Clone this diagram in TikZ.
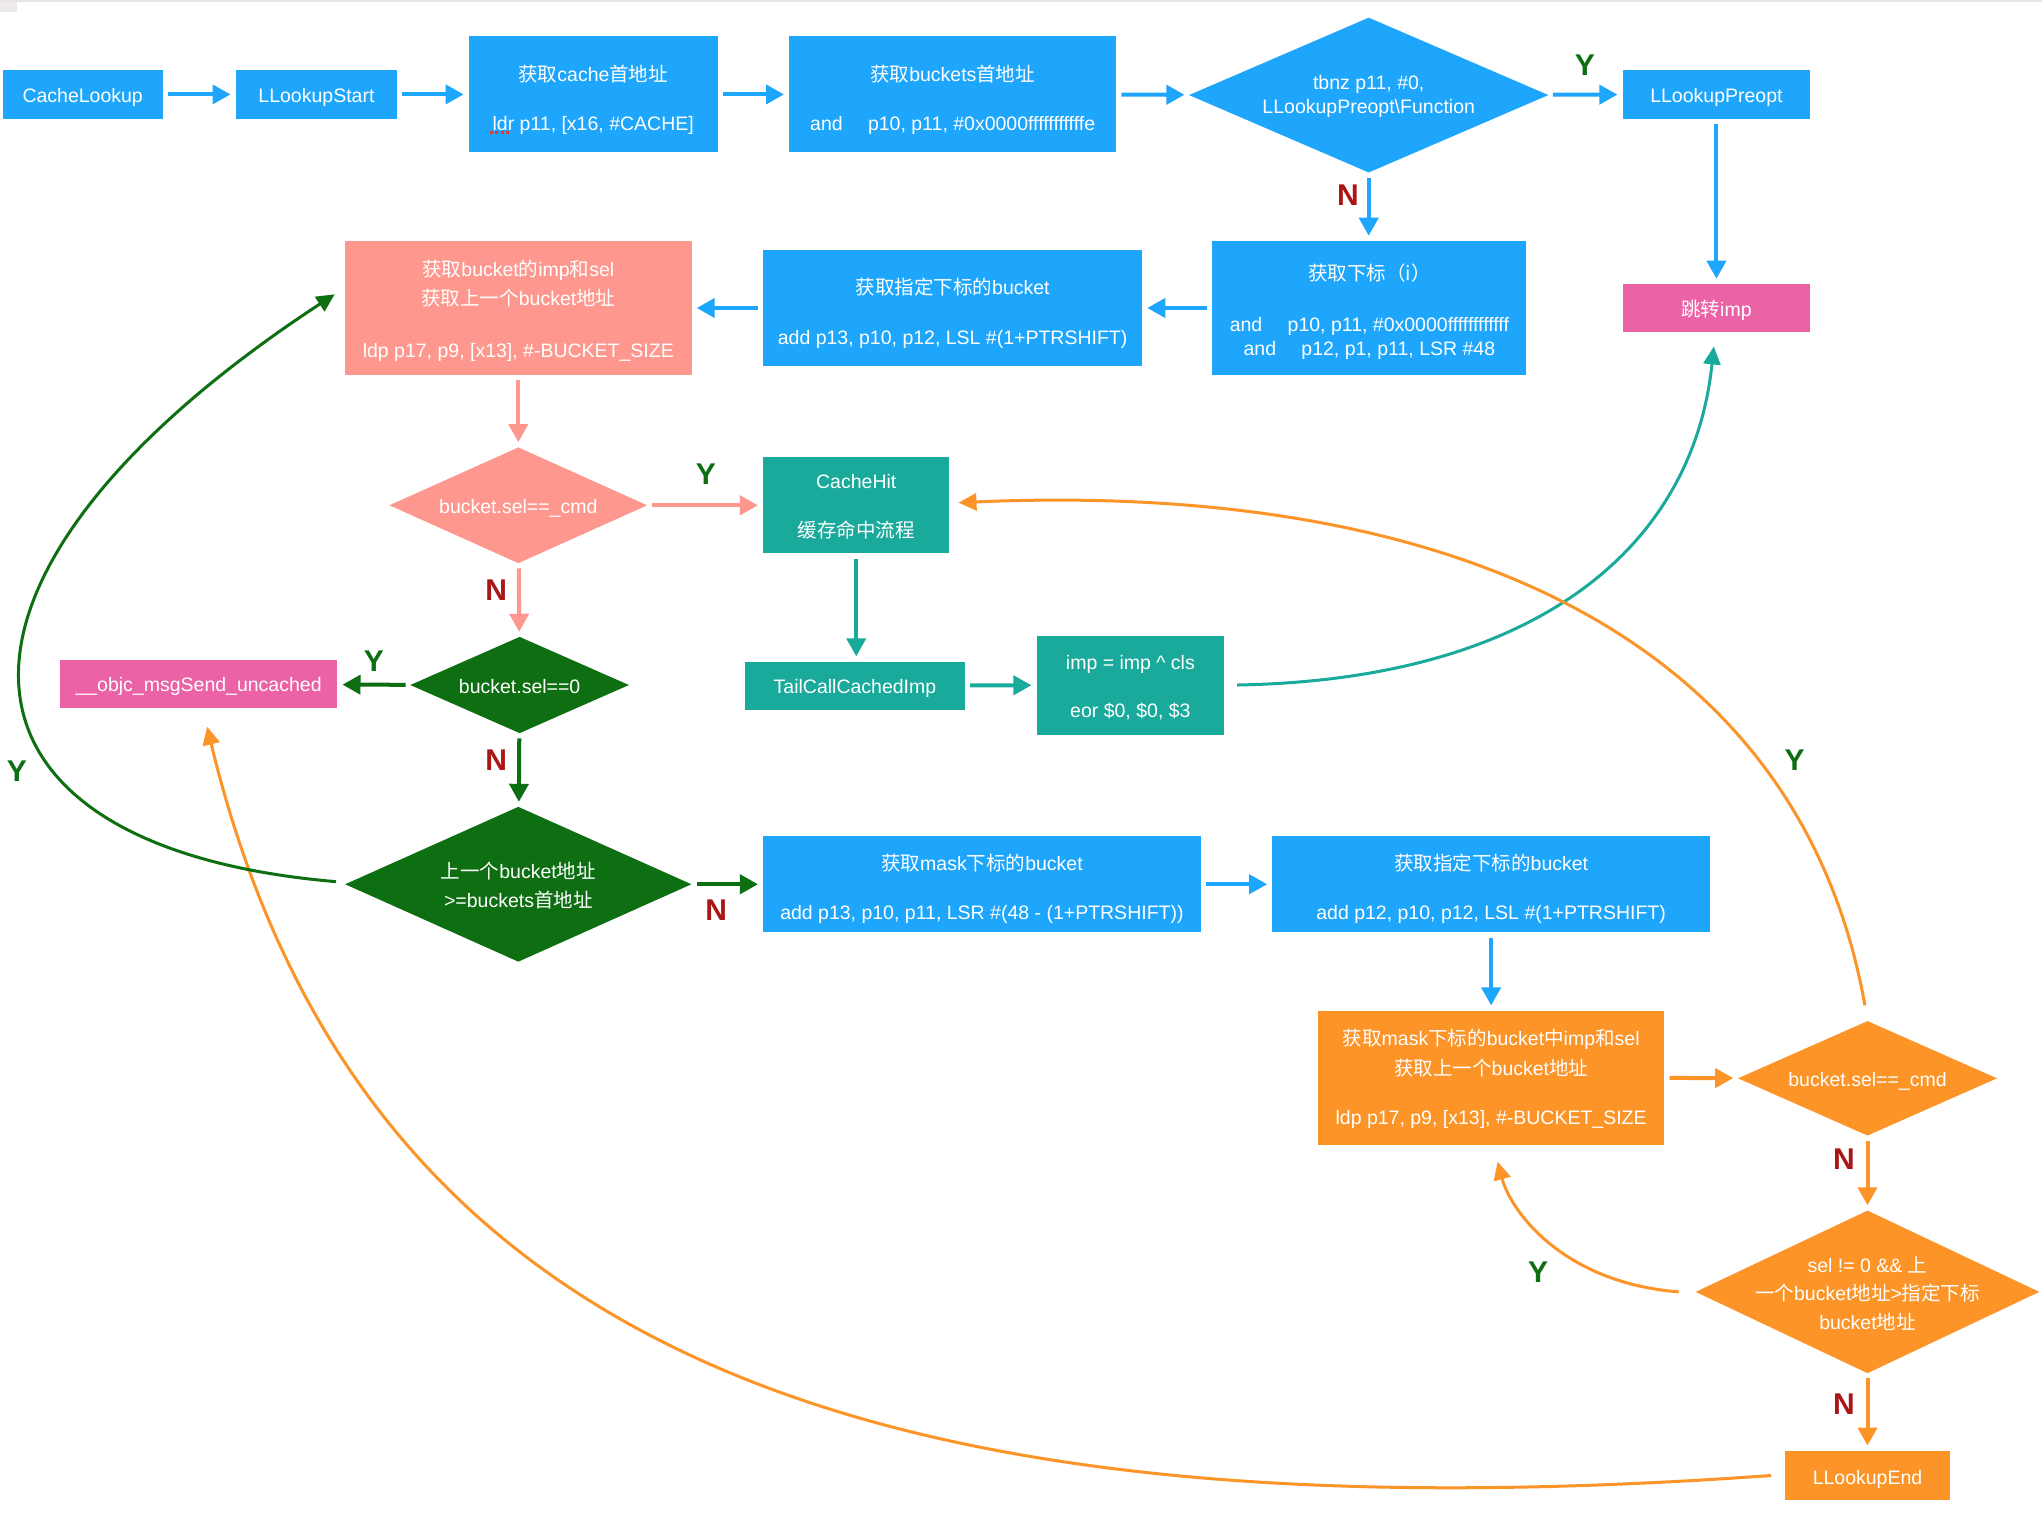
\documentclass[tikz,border=0pt]{standalone}
\usepackage{fontspec}
\setmainfont{Liberation Sans}
\newfontfamily\cjk{Noto Sans CJK SC}
\usetikzlibrary{arrows.meta,shapes.geometric}
\newcommand\zh[1]{{\cjk #1}}
\def\U{1.3023pt}
\definecolor{cblue}{RGB}{30,165,252}
\definecolor{cpink}{RGB}{236,98,166}
\definecolor{csalmon}{RGB}{254,152,143}
\definecolor{cteal}{RGB}{26,170,156}
\definecolor{cgreen}{RGB}{14,110,18}
\definecolor{corange}{RGB}{252,148,40}
\definecolor{cred}{RGB}{170,22,22}
\definecolor{cspell}{RGB}{228,55,55}
\tikzset{
  box/.style={draw=none, inner sep=0pt},
  dia/.style={diamond, draw=none, inner sep=0pt},
  dtext/.style={inner sep=0pt, text=white, align=center,
    font=\fontsize{19.5pt}{24.7pt}\selectfont},
  arr/.style={line width=4pt, -{Triangle[length=18pt,width=19pt]},
    shorten <=5pt, shorten >=5pt},
  carr/.style={line width=3pt, -{Triangle[length=18pt,width=17pt]}},
  ylab/.style={text=cgreen, font=\fontsize{30pt}{30pt}\bfseries\selectfont, inner sep=0pt},
  nlab/.style={text=cred, font=\fontsize{30pt}{30pt}\bfseries\selectfont, inner sep=0pt},
}
% \bx{name}{x1}{y1}{x2}{y2}{colour}{text}{text shift down}
\newcommand\bx[8]{\node[box,fill=#6,minimum width={(#4-#2)*\U},minimum height={(#5-#3)*\U}] (#1) at ({(#2+#4)/2},{(#3+#5)/2}) {};
  \node[dtext] (#1t) at ([shift={(0,#8)}]#1.center) {#7};}
% \dm{name}{cx}{cy}{w}{h}{colour}{text}{text shift down}
\newcommand\dm[8]{\node[dia,fill=#6,minimum width={#4*\U},minimum height={#5*\U}] (#1) at (#2,#3) {};
  \node[dtext] (#1t) at ([shift={(0,#8)}]#1.center) {#7};}
\begin{document}
\begin{tikzpicture}[x=1.3023pt,y=-1.3023pt]
\fill[white] (0,0) rectangle (1568,1164.1);
\useasboundingbox (0,0) rectangle (1568,1164.1);
\fill[gray!20] (0,0) rectangle (1568,1.2);
\fill[red!10!gray!15] (0,1.2) rectangle (13,9);

% ---- top row
\bx{cl}{2}{54}{125}{91}{cblue}{CacheLookup}{2}
\bx{ls}{181}{54}{305}{91}{cblue}{LLookupStart}{2}
\bx{gc}{360}{28}{551}{117}{cblue}{\zh{获取}cache\zh{首地址}\\[24.7pt]ldr p11, [x16, \#CACHE]}{4}
\bx{gb}{606}{28}{857}{117}{cblue}{\zh{获取}buckets\zh{首地址}\\[24.7pt]and\hspace{1.3em}p10, p11, \#0x0000fffffffffffe}{4}
\dm{d0}{1051}{73}{276}{119}{cblue}{tbnz p11, \#0,\\LLookupPreopt\textbackslash Function}{1}
\bx{lp}{1246}{54}{1390}{91}{cblue}{LLookupPreopt}{2}
\bx{jp}{1246}{218}{1390}{255}{cpink}{\zh{跳转}imp}{2}

% ---- second row
\bx{gx}{931}{185}{1172}{288}{cblue}{\zh{获取下标（i）}\\[26pt]and\hspace{1.3em}p10, p11, \#0x0000ffffffffffff\\and\hspace{1.3em}p12, p1, p11, LSR \#48}{3}
\bx{gz}{586}{192}{877}{281}{cblue}{\zh{获取指定下标的}bucket\\[26pt]add p13, p10, p12, LSL \#(1+PTRSHIFT)}{4}
\bx{sb}{265}{185}{531}{288}{csalmon}{\zh{获取}bucket\zh{的}imp\zh{和}sel\\[3.9pt]\zh{获取上一个}bucket\zh{地址}\\[27.3pt]ldp p17, p9, [x13], \#-BUCKET\_SIZE}{2}

% ---- middle
\dm{d1}{398}{388}{198}{89}{csalmon}{bucket.sel==\_cmd}{2}
\bx{ch}{586}{351}{729}{425}{cteal}{CacheHit\\[24.7pt]\zh{缓存命中流程}}{1}
\bx{tc}{572}{508}{741}{545}{cteal}{TailCallCachedImp}{2}
\bx{im}{796}{488}{940}{564}{cteal}{imp = imp \textasciicircum\ cls\\[23.5pt]eor \$0, \$0, \$3}{2}
\dm{d2}{399}{526}{168}{74}{cgreen}{bucket.sel==0}{1}
\bx{un}{46}{507}{259}{544}{cpink}{\_\_objc\_msgSend\_uncached}{1.5}
\dm{d3}{398}{679}{266}{119}{cgreen}{\zh{上一个}bucket\zh{地址}\\[3.9pt]>=buckets\zh{首地址}}{1}
\bx{mk}{586}{642}{922}{716}{cblue}{\zh{获取}mask\zh{下标的}bucket\\[24.7pt]add p13, p10, p11, LSR \#(48 - (1+PTRSHIFT))}{3.5}
\bx{gz2}{977}{642}{1313}{716}{cblue}{\zh{获取指定下标的}bucket\\[24.7pt]add p12, p10, p12, LSL \#(1+PTRSHIFT)}{3.5}

% ---- bottom right
\bx{ob}{1012}{776}{1278}{879}{corange}{\zh{获取}mask\zh{下标的}bucket\zh{中}imp\zh{和}sel\\[5.3pt]\zh{获取上一个}bucket\zh{地址}\\[24.8pt]ldp p17, p9, [x13], \#-BUCKET\_SIZE}{1}
\dm{d4}{1434}{828}{199}{88}{corange}{bucket.sel==\_cmd}{2}
\dm{d5}{1434}{992}{264}{125}{corange}{sel != 0 \&\& \zh{上}\\[3.9pt]\zh{一个}bucket\zh{地址}>\zh{指定下标}\\[3.9pt]bucket\zh{地址}}{1}
\bx{le}{1371}{1114}{1497}{1152}{corange}{LLookupEnd}{3}

% spell-check mark under "ldr"
\draw[cspell, line width=3pt, dash pattern=on 3pt off 2.5pt] (376,102) -- (392,102);

% ---- straight connectors
\draw[arr, cblue] (cl) -- (ls);
\draw[arr, cblue] (ls) -- (gc);
\draw[arr, cblue] (gc) -- (gb);
\draw[arr, cblue] (gb) -- (d0);
\draw[arr, cblue] (d0) -- (lp);
\draw[arr, cblue] (lp) -- (jp);
\draw[arr, cblue] (d0) -- (d0 |- gx.north);
\draw[arr, cblue] (gx) -- (gz);
\draw[arr, cblue] (gz) -- (sb);
\draw[arr, csalmon] (sb.south -| d1) -- (d1);
\draw[arr, csalmon] (d1) -- (ch);
\draw[arr, csalmon] (d1) -- (d2);
\draw[arr, cteal] (ch.south) -- (ch.south |- tc.north);
\draw[arr, cteal] (tc) -- (im);
\draw[arr, cgreen] (d2) -- (un);
\draw[arr, cgreen] (d2) -- (d3);
\draw[arr, cgreen] (d3) -- (mk);
\draw[arr, cblue] (mk) -- (gz2);
\draw[arr, cblue] (gz2.south) -- (gz2.south |- ob.north);
\draw[arr, corange] (ob) -- (d4);
\draw[arr, corange] (d4) -- (d5);
\draw[arr, corange] (d5) -- (le);

% ---- curved connectors
\coordinate (tcs) at (950,526);
\coordinate (tce) at (1316,266);
\draw[carr, cteal] (tcs) .. controls (1180,522) and (1300,420) .. (tce);
\coordinate (ocs) at (1432,772);
\coordinate (oce) at (736,386);
\draw[carr, corange] (ocs) .. controls (1380,480) and (1100,370) .. (oce);
\coordinate (oys) at (1289,992);
\coordinate (oye) at (1150,892);
\draw[carr, corange] (oys) .. controls (1200,985) and (1160,930) .. (oye);
\coordinate (obs) at (1360,1133);
\coordinate (obe) at (159,558);
\draw[carr, corange] (obs) .. controls (700,1180) and (280,1060) .. (obe);
\coordinate (gcs) at (258,677);
\coordinate (gce) at (257,226);
\draw[carr, cgreen] (gcs) .. controls (-60,650) and (-70,440) .. (gce);

% ---- labels
\node[ylab] (y1) at (1217,50) {Y};
\node[nlab] (n1) at (1035,150) {N};
\node[ylab] (y2) at (542,364) {Y};
\node[nlab] (n2) at (381,453) {N};
\node[ylab] (y3) at (287,508) {Y};
\node[nlab] (n3) at (381,584) {N};
\node[ylab] (y4) at (13,592) {Y};
\node[nlab] (n4) at (550,699) {N};
\node[ylab] (y5) at (1378,584) {Y};
\node[nlab] (n5) at (1416,890) {N};
\node[ylab] (y6) at (1181,977) {Y};
\node[nlab] (n6) at (1416,1078) {N};
\end{tikzpicture}
\end{document}
